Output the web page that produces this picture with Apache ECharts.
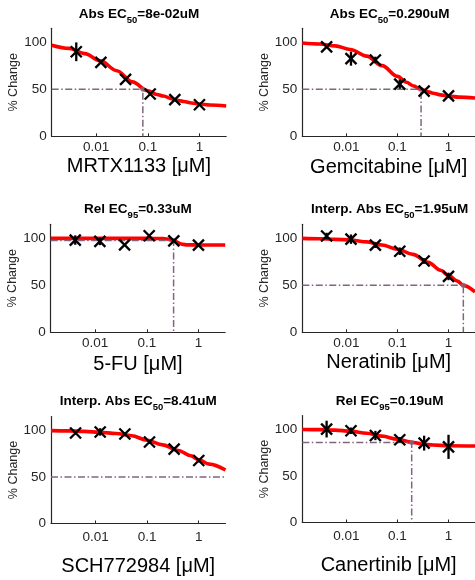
<!DOCTYPE html>
<html><head><meta charset="utf-8">
<script src="https://cdn.jsdelivr.net/npm/echarts@6/dist/echarts.min.js"></script>
<style>html,body{margin:0;padding:0;background:#fff}#c{width:475px;height:580px}</style>
</head><body><div id="c"></div>
<script>
// ---- data ----
const doses = [0.0041, 0.0123, 0.037, 0.111, 0.333, 1];
const drugNames = ['MRTX1133', 'Gemcitabine', '5-FU', 'Neratinib', 'SCH772984', 'Canertinib'];
const titlePrefix = ['Abs EC', 'Abs EC', 'Rel EC', 'Interp. Abs EC', 'Interp. Abs EC', 'Rel EC'];
const titleSub = ['50', '50', '95', '50', '50', '95'];
const titleValue = ['=8e-02uM', '=0.290uM', '=0.33uM', '=1.95uM', '=8.41uM', '=0.19uM'];
const yTicks = [0, 50, 100];

const meanMRTX1133 = [90, 78.7, 60.6, 45, 39, 33.6];
const errMRTX1133 = [10, 1.5, 1.5, 1.5, 1.5, 1];
const curveXMRTX1133 = [0.00137, 0.003, 0.006, 0.012, 0.025, 0.05, 0.1, 0.15, 0.2, 0.3, 0.4, 0.5, 0.7, 1, 1.6, 3.3];
const curveYMRTX1133 = [97, 93.6, 88, 80.4, 69.8, 58, 48.5, 44.5, 42.9, 39.7, 38, 37, 35.5, 34.4, 33.3, 32.3];

const meanGemcitabine = [95.2, 82.7, 81.3, 55.6, 48.1, 43.1];
const errGemcitabine = [1.5, 7.5, 3.5, 5, 1.5, 1];
const curveXGemcitabine = [0.00137, 0.003, 0.006, 0.012, 0.025, 0.05, 0.1, 0.15, 0.2, 0.3, 0.4, 0.5, 0.7, 1, 1.6, 3.3];
const curveYGemcitabine = [99.3, 98.3, 96.3, 92.5, 85.4, 75.3, 63.8, 57.6, 53.9, 49.7, 47.3, 45.9, 44.1, 42.8, 41.7, 40.8];

const mean5FU = [98.2, 96.8, 93.1, 102.8, 97.4, 92.8];
const err5FU = [5, 4, 1.5, 1, 1.5, 1];
const curveX5FU = [0.00137, 0.1, 0.2, 0.25, 0.3, 0.35, 0.4, 0.45, 0.5, 0.6, 1, 3.3];
const curveY5FU = [100, 100, 99.8, 99.3, 98.4, 97.3, 95.6, 94.3, 93.6, 93.1, 93, 93];

const meanNeratinib = [102.5, 99.2, 92.8, 86.3, 75.9, 59.5];
const errNeratinib = [3.5, 5, 3, 4, 3, 4];
const curveXNeratinib = [0.00137, 0.003, 0.006, 0.012, 0.025, 0.05, 0.1, 0.2, 0.4, 0.7, 1, 1.5, 1.95, 3.3];
const curveYNeratinib = [100, 99.6, 99, 98.3, 96.3, 93, 88.5, 83, 74.5, 66, 60.5, 54.5, 50, 43];

const meanSCH772984 = [97.3, 98.4, 96.2, 87.6, 80, 67.7];
const errSCH772984 = [1.5, 4, 1.5, 2, 2, 2];
const curveXSCH772984 = [0.00137, 0.003, 0.006, 0.012, 0.025, 0.05, 0.1, 0.2, 0.4, 0.7, 1, 1.6, 3.3];
const curveYSCH772984 = [99.8, 99.5, 99, 98, 96.8, 94.3, 89.5, 84.5, 78.5, 72.8, 68.5, 63.8, 57.5];

const meanCanertinib = [100.4, 98.6, 93.5, 88.9, 85.3, 81.3];
const errCanertinib = [9, 3.5, 5, 3, 8, 13];
const curveXCanertinib = [0.00137, 0.003, 0.006, 0.012, 0.025, 0.05, 0.1, 0.19, 0.3, 0.5, 1, 3.3];
const curveYCanertinib = [100, 99.8, 99.3, 98.2, 96, 92.8, 89.5, 86.3, 84.4, 83.3, 82.5, 82.2];

const ecDose = [0.08, 0.29, 0.33, 1.95, null, 0.19];
const ecLevel = [50, 50, 97.8, 50, 50, 86];

const xMin = 0.00137, xMax = 3.3, yMax = 115;

// ---- layout / style ----
const grids = [
  {left: 51.7, top: 28.3, width: 174.5, height: 108},
  {left: 302.3, top: 28.3, width: 174.5, height: 108},
  {left: 50.7, top: 224.3, width: 174.5, height: 108},
  {left: 302.3, top: 224.3, width: 174.5, height: 108},
  {left: 51, top: 416.5, width: 174.5, height: 107},
  {left: 302.3, top: 415.5, width: 174.5, height: 107}
];
const titleTop = [7, 7, 202, 202, 394, 394];
const xNameGap = [20, 21, 22, 20, 33, 33];
const xLabelMargin = [4, 4, 4, 4, 7, 7];

const FONT = '"Liberation Sans", Arial, Helvetica, sans-serif';
const AX = '#262626';
const DASH = '#7f6680';

const means = [meanMRTX1133, meanGemcitabine, mean5FU, meanNeratinib, meanSCH772984, meanCanertinib];
const errs = [errMRTX1133, errGemcitabine, err5FU, errNeratinib, errSCH772984, errCanertinib];
const curveXs = [curveXMRTX1133, curveXGemcitabine, curveX5FU, curveXNeratinib, curveXSCH772984, curveXCanertinib];
const curveYs = [curveYMRTX1133, curveYGemcitabine, curveY5FU, curveYNeratinib, curveYSCH772984, curveYCanertinib];

function renderMarker(params, api) {
  const x = api.value(0), y = api.value(1), e = api.value(2);
  const c = api.coord([x, y]);
  const t = api.coord([x, y + e]);
  const b = api.coord([x, y - e]);
  const s = 5.5;
  const st = {stroke: '#000', lineWidth: 2.3};
  return {type: 'group', children: [
    {type: 'line', shape: {x1: c[0], y1: t[1], x2: c[0], y2: b[1]}, style: st},
    {type: 'line', shape: {x1: c[0] - s, y1: c[1] - s, x2: c[0] + s, y2: c[1] + s}, style: st},
    {type: 'line', shape: {x1: c[0] - s, y1: c[1] + s, x2: c[0] + s, y2: c[1] - s}, style: st}
  ]};
}

const option = {
  backgroundColor: '#fff',
  animation: false,
  title: [], grid: [], xAxis: [], yAxis: [], series: []
};

for (let i = 0; i < 6; i++) {
  const g = grids[i];
  option.grid.push(Object.assign({containLabel: false}, g));
  option.title.push({
    text: '{b|' + titlePrefix[i] + '}{s|' + titleSub[i] + '}{b|' + titleValue[i] + '}',
    left: g.left + g.width / 2, top: titleTop[i], textAlign: 'center', padding: 0,
    textStyle: {
      rich: {
        b: {fontFamily: FONT, fontWeight: 'bold', fontSize: 13.5, color: '#000', lineHeight: 14, verticalAlign: 'top'},
        s: {fontFamily: FONT, fontWeight: 'bold', fontSize: 9.5, color: '#000', lineHeight: 10, padding: [8, 0, 0, 0], verticalAlign: 'top'}
      }
    }
  });
  option.xAxis.push({
    type: 'log', gridIndex: i, min: xMin, max: xMax, logBase: 10,
    name: drugNames[i] + ' [μM]', nameLocation: 'middle', nameGap: xNameGap[i],
    nameTextStyle: {fontFamily: FONT, fontSize: 20, color: '#000'},
    axisLine: {show: true, lineStyle: {color: AX, width: 1.2}},
    axisTick: {show: true, inside: true, length: 3, lineStyle: {color: AX}},
    axisLabel: {fontFamily: FONT, fontSize: 13.5, color: AX, margin: xLabelMargin[i], showMinLabel: false, showMaxLabel: false},
    splitLine: {show: false}, minorTick: {show: false}
  });
  option.yAxis.push({
    type: 'value', gridIndex: i, min: 0, max: yMax, interval: 50,
    name: '% Change', nameLocation: 'middle', nameGap: 29,
    nameTextStyle: {fontFamily: FONT, fontSize: 12.5, color: AX},
    axisLine: {show: true, lineStyle: {color: AX, width: 1.2}},
    axisTick: {show: false},
    axisLabel: {fontFamily: FONT, fontSize: 13.5, color: AX, margin: 5, showMaxLabel: false},
    splitLine: {show: false}
  });
  // fitted curve
  option.series.push({
    type: 'line', xAxisIndex: i, yAxisIndex: i, z: 2,
    data: curveXs[i].map((x, k) => [x, curveYs[i][k]]),
    showSymbol: false, smooth: 0.35, smoothMonotone: 'x',
    lineStyle: {color: '#ff0000', width: 3.6}, silent: true
  });
  // EC guide lines
  let guide;
  if (ecDose[i] === null) guide = [[xMin, ecLevel[i]], [xMax, ecLevel[i]]];
  else guide = [[xMin, ecLevel[i]], [ecDose[i], ecLevel[i]], [ecDose[i], 0]];
  option.series.push({
    type: 'line', xAxisIndex: i, yAxisIndex: i, z: 3, data: guide,
    showSymbol: false, lineStyle: {color: DASH, width: 1.5, type: [7, 2.5, 1.5, 2.5]}, silent: true
  });
  if (ecDose[i] !== null) {
    option.series.push({
      type: 'scatter', xAxisIndex: i, yAxisIndex: i, z: 4,
      data: [[ecDose[i], ecLevel[i]]], symbolSize: 5, itemStyle: {color: DASH}, silent: true
    });
  }
  // markers with error bars
  option.series.push({
    type: 'custom', xAxisIndex: i, yAxisIndex: i, z: 5,
    data: doses.map((d, k) => [d, means[i][k], errs[i][k]]),
    encode: {x: 0, y: 1}, renderItem: renderMarker, silent: true
  });
}

const chart = echarts.init(document.getElementById('c'), null, {renderer: 'canvas'});
chart.setOption(option);
</script></body></html>
